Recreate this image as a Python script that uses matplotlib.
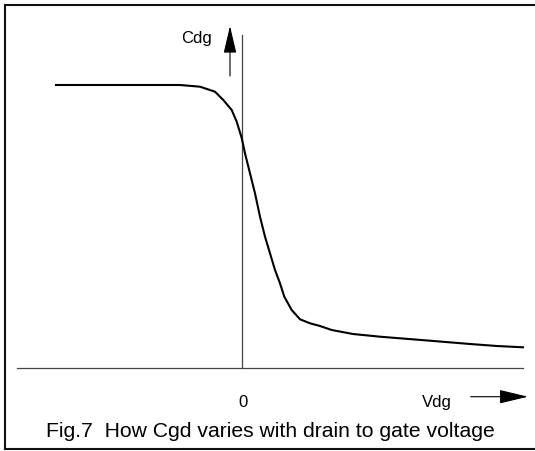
import matplotlib
matplotlib.use("Agg")
import matplotlib.pyplot as plt
from matplotlib.lines import Line2D

# Cdg vs Vdg curve (arbitrary units, 0 at the axes)
vdg = [-18.6, -6.2, -4.2, -2.7, -1.87, -1.03, -0.53, -0.03, 0.3, 0.8, 1.3, 1.8, 2.3, 2.8,
       3.3, 3.8, 4.23, 4.97, 5.8, 6.8, 7.8, 8.97, 11.1, 13.8, 18.8, 22.8, 25.5, 28.1]
cdg = [28.3, 28.3, 28.13, 27.63, 26.8, 25.8, 24.63, 23.0, 21.47, 19.47, 17.47, 15.13, 13.13, 11.47,
       9.8, 8.47, 7.13, 5.8, 4.87, 4.47, 4.2, 3.8, 3.4, 3.13, 2.73, 2.4, 2.2, 2.07]

x_label = "Vdg"
y_label = "Cdg"
zero_label = "0"
caption = "Fig.7  How Cgd varies with drain to gate voltage"

plt.rcParams['font.family'] = ['Liberation Sans', 'DejaVu Sans']

fig = plt.figure(figsize=(5.35, 4.51), dpi=100)
ax = fig.add_axes([0, 0, 1, 1])
ax.set_xlim(-24.2, 29.3)
ax.set_ylim(-8.3, 36.8)
ax.axis('off')

# frame round the figure (no right side in the original)
W, H = 535.0, 451.0
bx, bt, bb = 4.5 / W, 1 - 5 / H, 1 - 449 / H
for xs, ys in [([bx, bx], [bt, bb]), ([bx, 1], [bt, bt]), ([bx, 1], [bb, bb])]:
    fig.add_artist(Line2D(xs, ys, transform=fig.transFigure, color='#111111', lw=1.5))

# axes lines
ax.plot([-22.45, 28.1], [0, 0], color='#444444', lw=0.9)
ax.plot([0, 0], [0, 33.3], color='#444444', lw=0.9)

# the curve
ax.plot(vdg, cdg, color='black', lw=1.5, solid_joinstyle='round')

# arrows
ax.annotate('', xy=(-1.2, 34.2), xytext=(-1.2, 29.2),
            arrowprops=dict(arrowstyle='-|>,head_length=1.7,head_width=0.4',
                            mutation_scale=10, color='black', lw=0.8,
                            shrinkA=0, shrinkB=0))
ax.annotate('', xy=(28.6, -2.87), xytext=(22.87, -2.87),
            arrowprops=dict(arrowstyle='-|>,head_length=1.8,head_width=0.43',
                            mutation_scale=10, color='black', lw=0.8,
                            shrinkA=0, shrinkB=0))

# labels
ax.text(-4.5, 32.53, y_label, ha='center', va='baseline', fontsize=12)
ax.text(0.07, -3.87, zero_label, ha='center', va='baseline', fontsize=12)
ax.text(19.5, -3.87, x_label, ha='center', va='baseline', fontsize=12)
ax.text(2.88, -6.9, caption, ha='center', va='baseline', fontsize=15.2)

fig.savefig("out.png", dpi=100)
